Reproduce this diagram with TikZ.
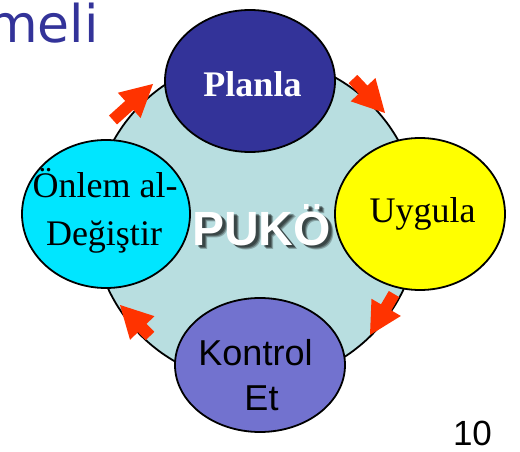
\documentclass[tikz,border=0pt]{standalone}
\usepackage{fontspec}
\setmainfont{Liberation Serif}
\newfontfamily\arialf{Liberation Sans}
\newfontfamily\verdf{DejaVu Sans}
\usetikzlibrary{shapes.geometric,calc}
\definecolor{bigc}{HTML}{B8DEE0}
\definecolor{planc}{HTML}{333399}
\definecolor{cyanc}{HTML}{00E6FF}
\definecolor{yelc}{HTML}{FFFF00}
\definecolor{kontc}{HTML}{7272CF}
\definecolor{arrc}{HTML}{FF3300}
\tikzset{
  blob/.style={ellipse,draw=black,line width=1.8pt,inner sep=0pt},
  lbl/.style={anchor=base,inner sep=0pt,font=\fontsize{36}{40}\selectfont},
  pukofont/.style={anchor=base west,inner sep=0pt,font=\arialf\bfseries\fontsize{48}{52}\selectfont},
}
\newcommand{\blockarr}[2]{%
  \coordinate (bT) at (#1);
  \coordinate (bP) at (#2);
  \coordinate (bN) at ($(bP)!32pt!(bT)$);
  \fill[arrc] ($(bT)!6pt!90:(bP)$) -- ($(bN)!6pt!90:(bP)$) -- ($(bN)!17pt!90:(bP)$)
    -- (bP) -- ($(bN)!17pt!-90:(bP)$) -- ($(bN)!6pt!-90:(bP)$) -- ($(bT)!6pt!-90:(bP)$) -- cycle;
}
\begin{document}
\begin{tikzpicture}[x=1pt,y=-1pt]
\useasboundingbox (0,0) rectangle (520,452);
% big circle
\node[circle,draw=black,line width=1.8pt,fill=bigc,minimum size=326pt] (big) at (256,220) {};
% PUKO text with soft shadow
\node[pukofont,text=black,opacity=0.25] (pukosh1) at (197,249) {PUKÖ};
\node[pukofont,text=black,opacity=0.35] (pukosh2) at (196,248) {PUKÖ};
\node[pukofont,text=black,opacity=0.35] (pukosh3) at (195,247) {PUKÖ};
\node[pukofont,text=white] (puko) at (192,245) {PUKÖ};
% ellipses
\node[blob,fill=planc,minimum width=170pt,minimum height=142pt] (plan) at (250,81) {};
\node[blob,fill=cyanc,minimum width=168pt,minimum height=148pt] (onlem) at (106,214) {};
\node[blob,fill=yelc,minimum width=170pt,minimum height=152pt] (uyg) at (420,214) {};
\node[blob,fill=kontc,minimum width=170pt,minimum height=134pt] (kont) at (260,365) {};
% labels
\node[lbl,text=white,font=\bfseries\fontsize{36}{40}\selectfont] (tplan) at (252.5,97) {Planla};
\node[lbl] (tuyg) at (422.5,222) {Uygula};
\node[lbl] (tonl1) at (105,197) {Önlem al-};
\node[lbl] (tonl2) at (104,245) {Değiştir};
\node[lbl,font=\arialf\fontsize{36}{40}\selectfont] (tkon1) at (255.5,365) {Kontrol};
\node[lbl,font=\arialf\fontsize{36}{40}\selectfont] (tkon2) at (261.5,410) {Et};
\node[lbl,font=\arialf\fontsize{35}{40}\selectfont] (pnum) at (472.5,445) {10};
\node[anchor=base east,inner sep=0pt,text=planc,font=\verdf\fontsize{52}{56}\selectfont] (meli) at (99,43) {meli};
% arrows
\blockarr{113,120}{153,84}
\blockarr{353,79}{385,113}
\blockarr{394,294}{370,335}
\blockarr{150,336}{120,305}
\end{tikzpicture}
\end{document}
